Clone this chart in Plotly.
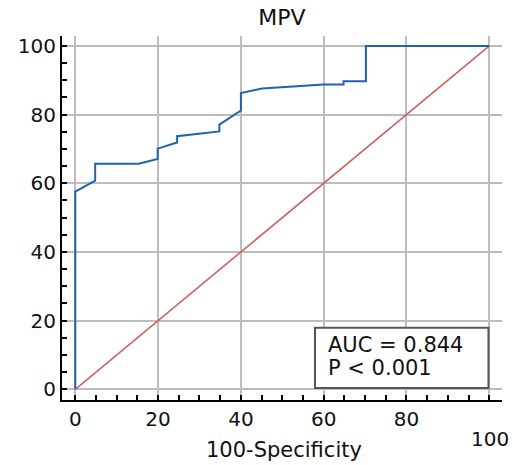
import plotly.graph_objects as go

# ROC curve data (100-Specificity vs Sensitivity)
fpr = [0, 0, 4.8, 4.8, 15.3, 19.9, 19.9, 24.6, 24.6, 34.8, 34.8, 40.0, 40.0, 45.1, 60.0, 64.8, 64.8, 70.2, 70.2, 100]
tpr = [0, 57.6, 60.8, 65.7, 65.7, 67.1, 70.1, 71.9, 73.7, 75.1, 77.1, 81.2, 86.3, 87.6, 88.8, 88.8, 89.7, 89.7, 100, 100]
diag_x = [0, 100]
diag_y = [0, 100]

x_ticks = [0, 20, 40, 60, 80, 100]
x_ticktext = ["0", "20", "40", "60", "80", ""]
y_ticks = [0, 20, 40, 60, 80, 100]

title_text = "MPV"
x_title = "100-Specificity"
auc_text = "AUC = 0.844"
p_text = "P &lt; 0.001"

FONT = "DejaVu Sans"
fig = go.Figure()
fig.add_trace(go.Scatter(x=diag_x, y=diag_y, mode="lines",
                         line=dict(color="#cc6262", width=1.6), showlegend=False))
fig.add_trace(go.Scatter(x=fpr, y=tpr, mode="lines",
                         line=dict(color="#1f63ad", width=2), showlegend=False))

axis_common = dict(
    automargin=False,
    showline=True, linecolor="black", linewidth=2,
    showgrid=True, gridcolor="#bdbdbd", gridwidth=1.5,
    zeroline=False, ticks="inside", ticklen=5, tickcolor="black", tickwidth=1.5,
    tickfont=dict(family=FONT, size=20, color="#111"),
    minor=dict(ticks="inside", ticklen=5, tickcolor="black", tickwidth=1.5, dtick=5, showgrid=False),
)
fig.update_xaxes(range=[-3.21, 103.07], tickvals=x_ticks, ticktext=x_ticktext, **axis_common)
fig.update_yaxes(range=[-3.12, 102.9], tickvals=y_ticks, **axis_common)

fig.add_shape(type="rect", x0=57.9, x1=99.8, y0=0.4, y1=17.9, xref="x", yref="y",
              line=dict(color="#555555", width=2), fillcolor="white", layer="above")
fig.add_annotation(x=60.5, y=12.9, xref="x", yref="y", text=auc_text, showarrow=False,
                   xanchor="left", yanchor="middle", font=dict(family=FONT, size=21, color="#111"))
fig.add_annotation(x=60.5, y=6.1, xref="x", yref="y", text=p_text, showarrow=False,
                   xanchor="left", yanchor="middle", font=dict(family=FONT, size=21, color="#111"))

fig.add_annotation(x=0.505, y=-0.137, xref="paper", yref="paper", text=x_title, showarrow=False,
                   xanchor="center", yanchor="middle", font=dict(family=FONT, size=21, color="#111"))
fig.add_annotation(x=0.9727, y=-0.108, xref="paper", yref="paper", text="100", showarrow=False,
                   xanchor="center", yanchor="middle", font=dict(family=FONT, size=20, color="#111"))

fig.update_layout(
    width=515, height=465,
    margin=dict(l=62, r=13, t=36, b=65, autoexpand=False),
    paper_bgcolor="white", plot_bgcolor="white",
    title=dict(text=title_text, x=0.5, xref="paper", y=1 - 17.5 / 465, yref="container",
               xanchor="center", yanchor="middle", automargin=False,
               font=dict(family=FONT, size=22, color="#111")),
)
fig.write_html("out.html", config={"displayModeBar": False},
               post_script="document.body.style.margin='0';document.body.style.overflow='hidden';")
